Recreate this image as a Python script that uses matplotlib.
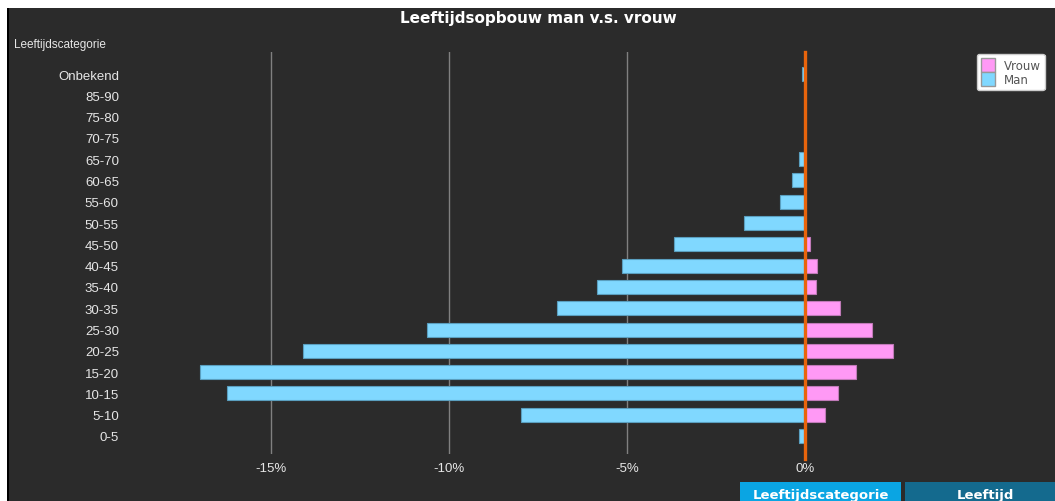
import matplotlib.pyplot as plt
from matplotlib.patches import Rectangle

# leeftijdscategorieen van onder naar boven
categorieen = ['0-5', '5-10', '10-15', '15-20', '20-25', '25-30', '30-35', '35-40',
               '40-45', '45-50', '50-55', '55-60', '60-65', '65-70', '70-75', '75-80',
               '85-90', 'Onbekend']
# percentages (man negatief, links)
man = [-0.17, -7.98, -16.24, -17.0, -14.1, -10.62, -6.97, -5.84,
       -5.15, -3.67, -1.71, -0.70, -0.36, -0.17, 0, 0, 0, -0.08]
vrouw = [0, 0.57, 0.93, 1.43, 2.47, 1.87, 0.98, 0.30,
         0.33, 0.13, 0, 0, 0, 0, 0, 0, 0, 0]
xticks = [-15, -10, -5, 0]
xlabels = ['-15%', '-10%', '-5%', '0%']

W, H = 1055, 502
donker = '#2b2b2b'
fig = plt.figure(figsize=(W / 100, H / 100), dpi=100, facecolor='white')

# donkere achtergrond met witte rand links/boven
fig.patches.append(Rectangle((8 / W, 0), 1, 1 - 9 / H, transform=fig.transFigure,
                             facecolor=donker, edgecolor='none', zorder=-2))
fig.patches.append(Rectangle((7 / W, 0), 1.5 / W, 1 - 9 / H, transform=fig.transFigure,
                             facecolor='black', edgecolor='none', zorder=-2))

ax = fig.add_axes([130 / W, 1 - 455 / H, 840 / W, 402 / H])
ax.set_facecolor('none')
ax.set_zorder(2)

y = list(range(len(categorieen)))
ax.barh(y, man, height=0.66, color='#80d8ff', edgecolor='#5a9fbf', linewidth=0.8, zorder=3)
ax.barh(y, vrouw, height=0.66, color='#ff99f5', edgecolor='#c07ab8', linewidth=0.8, zorder=3)

ax.set_xlim((130 - 805) / 35.6, (970 - 805) / 35.6)
n = len(categorieen)
sp = (437 - 75) / (n - 1)
ax.set_ylim(-18 / sp, n - 1 + 22 / sp)

ax.set_yticks(y)
ax.set_yticklabels(categorieen, family='Liberation Sans', fontsize=9.5, color='#e6e6e6')
ax.set_xticks(xticks)
ax.set_xticklabels(xlabels, family='Liberation Sans', fontsize=9.5, color='#e6e6e6')
ax.tick_params(length=0, pad=6)
ax.tick_params(axis='y', pad=8)
for s in ax.spines.values():
    s.set_visible(False)
for v in xticks[:-1]:
    ax.axvline(v, color='#808080', linewidth=1, zorder=1)
ax.axvline(0, ymin=-0.012, ymax=1, color='#e8640c', linewidth=2.4, zorder=4, clip_on=False)

fig.text(538 / W, 1 - 19 / H, 'Leeftijdsopbouw man v.s. vrouw', ha='center', va='center',
         color='white', fontsize=11, fontweight='bold', family='DejaVu Sans')
fig.text(14 / W, 1 - 45 / H, 'Leeftijdscategorie', ha='left', va='center',
         color='#e6e6e6', fontsize=8.5, family='Liberation Sans')

# legenda
hand = [Rectangle((0, 0), 1, 1, facecolor='#ff99f5', edgecolor='#999999'),
        Rectangle((0, 0), 1, 1, facecolor='#80d8ff', edgecolor='#999999')]
leg = fig.legend(hand, ['Vrouw', 'Man'], loc='upper left',
                 bbox_to_anchor=(977 / W, 1 - 55 / H), frameon=True, fancybox=True,
                 framealpha=1, prop={'family': 'DejaVu Sans', 'size': 8.5},
                 labelcolor='#555555', handlelength=1.2, handleheight=1.45,
                 handletextpad=0.7, labelspacing=0.0, borderpad=0.35, borderaxespad=0)
leg.get_frame().set_facecolor('white')
leg.get_frame().set_edgecolor('#cccccc')
leg.set_zorder(5)

# tabbladen onderaan
fig.patches.append(Rectangle((740 / W, 0), 161 / W, 19 / H, transform=fig.transFigure,
                             facecolor='#0aa5e3', edgecolor='none', zorder=1))
fig.patches.append(Rectangle((905 / W, 0), 150 / W, 19 / H, transform=fig.transFigure,
                             facecolor='#146a8e', edgecolor='none', zorder=1))
fig.text(821 / W, 1 - 489 / H, 'Leeftijdscategorie', ha='center', va='top',
         color='white', fontsize=9.5, fontweight='bold', family='DejaVu Sans')
fig.text(985 / W, 1 - 489 / H, 'Leeftijd', ha='center', va='top',
         color='white', fontsize=9.5, fontweight='bold', family='DejaVu Sans')

fig.savefig('out.png', dpi=100, facecolor=fig.get_facecolor())
